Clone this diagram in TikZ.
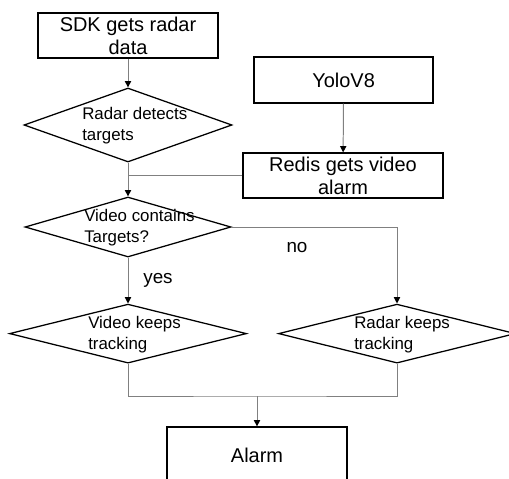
\documentclass[tikz,border=0pt]{standalone}
\usepackage{fontspec}
\setmainfont{Liberation Sans}
\usetikzlibrary{shapes.geometric, arrows.meta}

\begin{document}
\begin{tikzpicture}[
  box/.style={draw, line width=0.9pt, minimum width=4.5cm, minimum height=1.125cm, align=center, inner sep=0, font=\fontsize{14.2}{16.4}\selectfont},
  decision/.style={draw, diamond, line width=0.9pt, inner sep=0},
  dtext/.style={anchor=west, align=left, inner sep=0, font=\fontsize{12}{14.9}\selectfont},
  answer/.style={font=\fontsize{13.4}{15}\selectfont},
  link/.style={gray, line width=0.7pt},
  flow/.style={link, -{Triangle[black, length=4.5pt, width=4.5pt]}}
]
\useasboundingbox (0, 0) rectangle (12.725, -11.975);
\node [box] (sdk) at (3.2, -0.8875) {SDK gets radar\\data};
\node [decision, minimum width=5.2cm, minimum height=1.85cm] (q1) at (3.2, -3.125) {};
\node [dtext] (q1t) at (2.05, -3.15) {Radar detects\\targets};
\node [box, minimum width=4.475cm, minimum height=1.15cm] (yolo) at (8.59, -2.0) {YoloV8};
\node [box, minimum width=5cm] (redis) at (8.575, -4.3875) {Redis gets video\\alarm};
\node [decision, minimum width=5.15cm, minimum height=1.5cm] (q2) at (3.2, -5.675) {};
\node [dtext] (q2t) at (2.1, -5.69) {Video contains\\Targets?};
\node [answer] (yes) at (3.95, -7.0) {yes};
\node [answer] (no) at (7.425, -6.2) {no};
\node [decision, minimum width=5.925cm, minimum height=1.475cm] (q3) at (3.2, -8.34) {};
\node [dtext] (q3t) at (2.2, -8.375) {Video keeps\\tracking};
\node [decision, minimum width=5.925cm, minimum height=1.475cm] (q4) at (9.925, -8.34) {};
\node [dtext] (q4t) at (8.85, -8.375) {Radar keeps\\tracking};
\node [box, minimum height=1.43cm] (alarm) at (6.425, -11.39) {Alarm};
\coordinate (join) at (6.425, -9.9);
\draw [flow] (sdk) -- (q1);
\draw [flow] (yolo) -- (redis);
\draw [flow] (q1) -- (q2);
\draw [link] (redis.west) -- (redis.west -| q1.south);
\draw [flow] (q2.east) -| (q4.north);
\draw [flow] (q2) -- (q3);
\draw [link] (q3.south) |- (join) -| (q4.south);
\draw [flow] (join) -- (alarm);
\end{tikzpicture}
\end{document}
